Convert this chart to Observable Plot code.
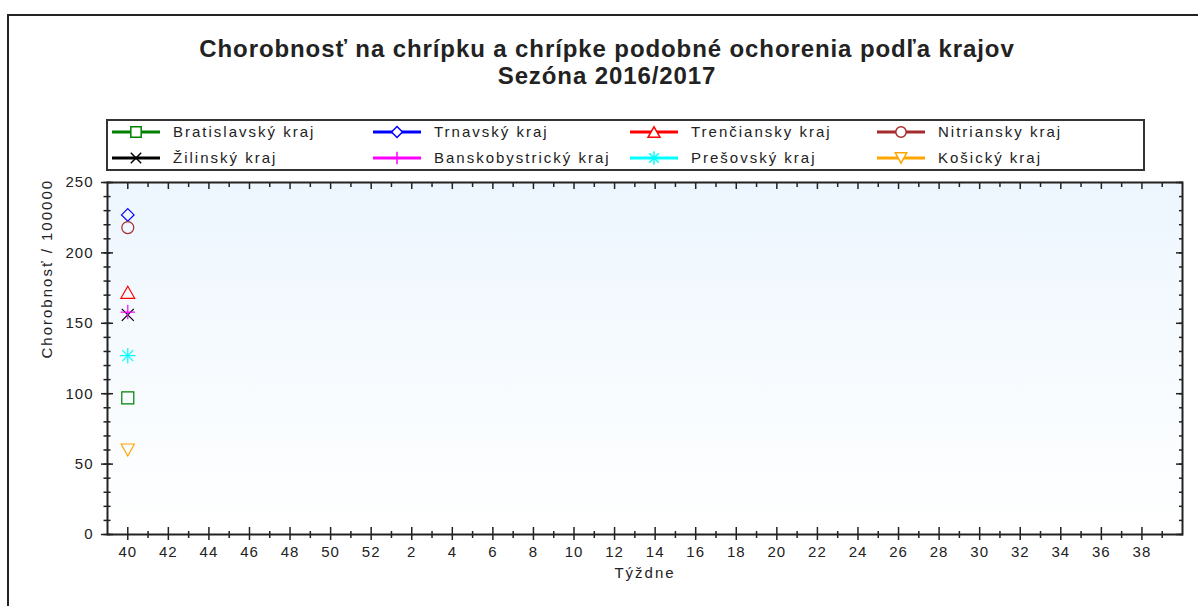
<!DOCTYPE html>
<html>
<head>
<meta charset="utf-8">
<script src="https://cdn.jsdelivr.net/npm/d3@7"></script>
<script src="https://cdn.jsdelivr.net/npm/@observablehq/plot@0.6"></script>
<style>
  body { margin: 0; background: #fff; font-family: "Liberation Sans", Arial, sans-serif; color: #222; }
  #wrap { position: relative; width: 1198px; height: 606px; overflow: hidden; background: #fff; }
  #border { position: absolute; left: 7px; top: 14px; width: 1400px; height: 800px; border-left: 2px solid #222; border-top: 2px solid #222; }
  .title { position: absolute; left: 0; width: 1214px; text-align: center; font-weight: bold; font-size: 24px; line-height: 28px; letter-spacing: 0.9px; color: #222; white-space: nowrap; }
  #legendBox { position: absolute; left: 106px; top: 119px; width: 1039px; height: 52px; border: 2px solid #333; box-sizing: border-box; }
  .item { position: absolute; height: 16px; white-space: nowrap; font-size: 15px; line-height: 16px; letter-spacing: 2px; color: #222; }
  .item svg { position: absolute; left: 0; top: 0; overflow: visible; }
  .item span { position: absolute; top: 0; }
  #chart { position: absolute; left: 0; top: 0; }
  #chart g[aria-label="text"] text { letter-spacing: 2px; }
  #chart g[aria-label$="tick label"] text { letter-spacing: 1px; }
</style>
</head>
<body>
<div id="wrap">
  <div id="border"></div>
  <div id="chart"></div>
  <div class="title" id="t1" style="top:35px"></div>
  <div class="title" id="t2" style="top:62px"></div>
  <div id="legendBox"></div>
</div>
<script>
// ---- data ----
const titleLine1 = "Chorobnosť na chrípku a chrípke podobné ochorenia podľa krajov";
const titleLine2 = "Sezóna 2016/2017";
const yLabel = "Chorobnosť / 100000";
const xLabel = "Týždne";
const regions = ["Bratislavský kraj", "Trnavský kraj", "Trenčiansky kraj", "Nitriansky kraj",
                 "Žilinský kraj", "Banskobystrický kraj", "Prešovský kraj", "Košický kraj"];
const regionColors = ["#008000", "#0000ff", "#ff0000", "#a52a2a", "#000000", "#ff00ff", "#00ffff", "#ffa500"];
const weekLabels = [40, 41, 42, 43, 44, 45, 46, 47, 48, 49, 50, 51, 52,
                    1, 2, 3, 4, 5, 6, 7, 8, 9, 10, 11, 12, 13, 14, 15, 16, 17, 18, 19,
                    20, 21, 22, 23, 24, 25, 26, 27, 28, 29, 30, 31, 32, 33, 34, 35, 36, 37, 38, 39];
const observedWeek = 40;
const week40Values = [97, 227, 172, 218, 156, 158, 127, 60];
const yTicksMajor = [0, 50, 100, 150, 200, 250];
const yTicksMinor = [0, 10, 20, 30, 40, 50, 60, 70, 80, 90, 100, 110, 120, 130, 140, 150, 160, 170, 180, 190, 200, 210, 220, 230, 240, 250];

// ---- symbols ----
const rad = s => Math.sqrt(s / Math.PI);
const symSquare = {draw(c, s) { const r = rad(s); c.rect(-r, -r, 2 * r, 2 * r); }};
const symDiamond = {draw(c, s) { const r = rad(s) * 1.05; c.moveTo(0, -r); c.lineTo(r, 0); c.lineTo(0, r); c.lineTo(-r, 0); c.closePath(); }};
const symTriUp = {draw(c, s) { const r = rad(s); c.moveTo(0, -r); c.lineTo(1.15 * r, r); c.lineTo(-1.15 * r, r); c.closePath(); }};
const symCircle = {draw(c, s) { const r = rad(s); c.moveTo(r, 0); c.arc(0, 0, r, 0, 2 * Math.PI); c.closePath(); }};
const symTimes = {draw(c, s) { const r = rad(s); c.moveTo(-r, -r); c.lineTo(r, r); c.moveTo(-r, r); c.lineTo(r, -r); }};
const symPlus = {draw(c, s) { const r = rad(s) * 1.2; c.moveTo(-r, 0); c.lineTo(r, 0); c.moveTo(0, -r); c.lineTo(0, r); }};
const symAster = {draw(c, s) { const r = rad(s) * 1.3, d = r * 0.707;
  c.moveTo(-r, 0); c.lineTo(r, 0); c.moveTo(0, -r); c.lineTo(0, r);
  c.moveTo(-d, -d); c.lineTo(d, d); c.moveTo(-d, d); c.lineTo(d, -d); }};
const symTriDown = {draw(c, s) { const r = rad(s); c.moveTo(0, r); c.lineTo(1.1 * r, -r); c.lineTo(-1.1 * r, -r); c.closePath(); }};
const regionSymbols = [symSquare, symDiamond, symTriUp, symCircle, symTimes, symPlus, symAster, symTriDown];
const closedShapes = new Set([symSquare, symDiamond, symTriUp, symCircle, symTriDown]);

// ---- titles ----
document.getElementById("t1").textContent = titleLine1;
document.getElementById("t2").textContent = titleLine2;

// ---- legend ----
const wrap = document.getElementById("wrap");
const legendCols = [112, 373, 630, 877];
const legendRows = [132, 158];
regions.forEach((name, i) => {
  const col = i % 4, row = Math.floor(i / 4);
  const item = document.createElement("div");
  item.className = "item";
  item.style.left = legendCols[col] + "px";
  item.style.top = (legendRows[row] - 8) + "px";
  const sym = regionSymbols[i];
  const path = d3.symbol(sym, Math.PI * 5.2 * 5.2)();
  item.innerHTML =
    `<svg width="48" height="16"><line x1="0" x2="48" y1="8" y2="8" stroke="${regionColors[i]}" stroke-width="3"/>` +
    `<path transform="translate(24,8)" d="${path}" fill="${closedShapes.has(sym) ? "#fff" : "none"}" stroke="${regionColors[i]}" stroke-width="1.5"/></svg>` +
    `<span style="left:61px">${name}</span>`;
  wrap.appendChild(item);
});

// ---- chart ----
const points = regions.map((region, i) => ({region, week: observedWeek, value: week40Values[i]}));
const weekIndex = w => weekLabels.indexOf(w);
const evenIdx = d3.range(0, weekLabels.length, 2);
const oddIdx = d3.range(1, weekLabels.length, 2);

const chart = Plot.plot({
  width: 1198,
  height: 606,
  marginLeft: 107,
  marginRight: 16,
  marginTop: 182,
  marginBottom: 72,
  style: {background: "transparent", fontFamily: "'Liberation Sans', Arial, sans-serif", fontSize: "15px", color: "#222"},
  x: {domain: [-1, weekLabels.length], label: null},
  y: {domain: [0, 250], label: null},
  symbol: {domain: regions, range: regionSymbols},
  color: {domain: regions, range: regionColors},
  marks: [
    Plot.frame({fill: "url(#plotbg)"}),
    // left axis
    Plot.axisY({ticks: yTicksMajor, tickSize: 12, dx: 6, tickPadding: 8, stroke: "#222", strokeWidth: 1.5, fontSize: 15}),
    Plot.axisY({ticks: yTicksMinor, tickSize: 7, dx: 3.5, text: null, stroke: "#222", strokeWidth: 1.5}),
    // right axis (inward ticks)
    Plot.axisY({anchor: "right", ticks: yTicksMajor, tickSize: 7, dx: -7, text: null, stroke: "#222", strokeWidth: 1.5}),
    Plot.axisY({anchor: "right", ticks: yTicksMinor, tickSize: 4, dx: -4, text: null, stroke: "#222", strokeWidth: 1.5}),
    // bottom axis
    Plot.axisX({ticks: evenIdx, tickFormat: i => weekLabels[i], tickSize: 13, dy: -7, tickPadding: 6, stroke: "#222", strokeWidth: 1.5, fontSize: 15}),
    Plot.axisX({ticks: oddIdx, tickSize: 7, dy: -3, text: null, stroke: "#222", strokeWidth: 1.5}),
    // top axis (inward ticks)
    Plot.axisX({anchor: "top", ticks: evenIdx, tickSize: 6, dy: 6, text: null, stroke: "#222", strokeWidth: 1.5}),
    Plot.axisX({anchor: "top", ticks: oddIdx, tickSize: 4, dy: 4, text: null, stroke: "#222", strokeWidth: 1.5}),
    Plot.frame({stroke: "#222", strokeWidth: 2}),
    // axis titles
    Plot.text([yLabel], {frameAnchor: "left", dx: -60, rotate: -90, fontSize: 15, fill: "#222"}),
    Plot.text([xLabel], {frameAnchor: "bottom", dy: 43, fontSize: 15, fill: "#222"}),
    // data
    Plot.dot(points, {x: d => weekIndex(d.week), y: "value", symbol: "region", stroke: "region", fill: "none", r: 6, strokeWidth: 1.2})
  ]
});

const defs = document.createElementNS("http://www.w3.org/2000/svg", "defs");
defs.innerHTML = `<linearGradient id="plotbg" x1="0" y1="0" x2="0" y2="1">
  <stop offset="0" stop-color="#edf6fe"/><stop offset="1" stop-color="#ffffff"/></linearGradient>`;
chart.prepend(defs);
document.getElementById("chart").appendChild(chart);
</script>
</body>
</html>
